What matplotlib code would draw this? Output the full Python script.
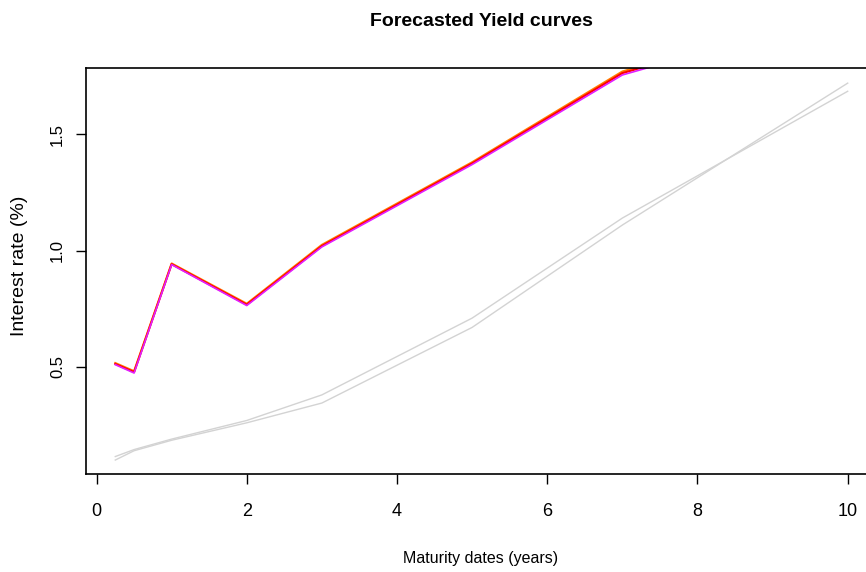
import matplotlib.pyplot as plt

maturities = [0.25, 0.5, 1, 2, 3, 5, 7, 10]

# historical curves (grey)
hist_a = [0.100, 0.140, 0.185, 0.260, 0.345, 0.670, 1.110, 1.720]
hist_b = [0.115, 0.145, 0.190, 0.270, 0.380, 0.710, 1.140, 1.685]

# forecasted curves
fc_orange = [0.517, 0.482, 0.945, 0.772, 1.025, 1.380, 1.770, 2.05]
fc_red = [0.513, 0.478, 0.942, 0.768, 1.020, 1.375, 1.763, 2.04]
fc_magenta = [0.510, 0.474, 0.940, 0.764, 1.016, 1.370, 1.755, 2.03]

xticks = [0, 2, 4, 6, 8, 10]
yticks = [0.5, 1.0, 1.5]

font = ['Liberation Sans', 'DejaVu Sans']

fig = plt.figure(figsize=(8.66, 5.72), dpi=100)
# plot region runs past the right edge of the image, as in the reference
ax = fig.add_axes([86 / 866, (572 - 474) / 572, (877 - 86) / 866, (474 - 68) / 572])

ax.plot(maturities, hist_a, color='#d3d3d3', lw=1)
ax.plot(maturities, hist_b, color='#d3d3d3', lw=1)
ax.plot(maturities, fc_orange, color='#ff7f00', lw=1.5)
ax.plot(maturities, fc_red, color='#ff0000', lw=1.5)
ax.plot(maturities, fc_magenta, color='#e020ff', lw=1.2)

ax.set_xlim(-0.14, 10.39)
ax.set_ylim(0.04, 1.785)

ax.set_xticks(xticks)
ax.set_xticklabels([str(t) for t in xticks], family=font, fontsize=13)
ax.set_yticks(yticks)
ax.set_yticklabels([f'{t:.1f}' for t in yticks], family=font, fontsize=12,
                   rotation=90, va='center')
ax.tick_params(axis='x', length=7, width=1, direction='out', pad=14)
ax.tick_params(axis='y', length=7, width=1, direction='out', pad=8)

for s in ax.spines.values():
    s.set_linewidth(1.2)

fig.text(481 / 866, 1 - 21 / 572, 'Forecasted Yield curves', ha='center', va='center',
         fontsize=14, fontweight='bold', family=font)
fig.text(481 / 866, 1 - 558 / 572, 'Maturity dates (years)', ha='center', va='center',
         fontsize=11.5, family=font)
fig.text(20 / 866, 1 - 266 / 572, 'Interest rate (%)', ha='center', va='center',
         rotation=90, fontsize=14, family=font)

fig.savefig('out.png', dpi=100)
